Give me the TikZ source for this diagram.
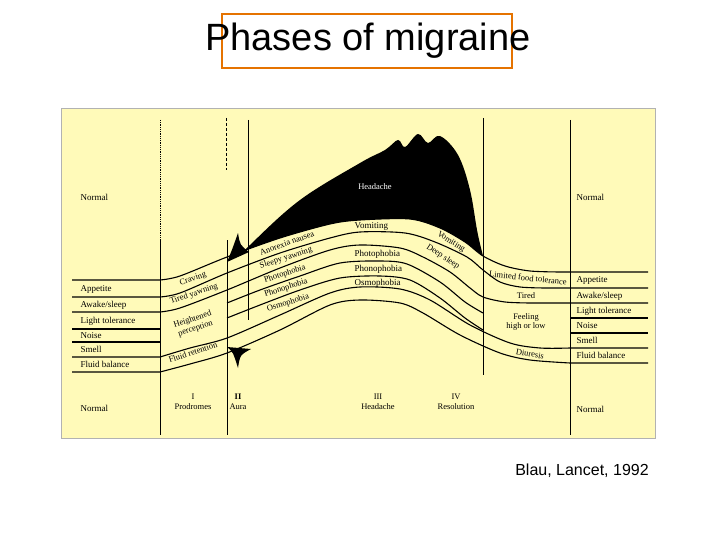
\documentclass[tikz,border=0pt]{standalone}
\usepackage{fontspec}
\setmainfont{Liberation Serif}
\newfontfamily\titlefont{Liberation Sans}
\begin{document}
\begin{tikzpicture}[x=1pt,y=-1pt,
  band/.style={line width=1.1pt},
  lbl/.style={font=\fontsize{8.5}{9.5}\selectfont, inner sep=0.5pt},
  lblw/.style={lbl, font=\fontsize{9}{10}\selectfont, anchor=west},
  vline/.style={line width=0.8pt}]
\useasboundingbox (0,0) rectangle (720,540);
\node[draw=orange!90!black, line width=2.5pt, minimum width=290pt, minimum height=54pt] (frame) at (367,41) {};
\node[font=\titlefont\fontsize{38}{42}\selectfont] (title) at (368,41) {Phases of migraine};
\node[fill={rgb,255:red,255;green,250;blue,185}, draw=gray!60, minimum width=594pt, minimum height=330pt, anchor=north west, inner sep=0] (panel) at (61,108) {};
% vertical lines
\draw[vline, densely dotted] (160,120) -- (160,240);
\draw[vline] (160,240) -- (160,435);
\draw[vline, densely dashed] (226,118) -- (226,170);
\draw[vline] (227,240) -- (227,435);
\draw[vline] (248,120) -- (248,320);
\draw[vline] (483,118) -- (483,375);
\draw[vline] (570,120) -- (570,435);
% headache
\begin{scope}
\clip (72,280) -- plot[smooth, tension=0.5] coordinates {(160,280) (180,276) (227,257) (280,238) (330,224) (360,220) (410,219) (440,228) (465,242) (483,256) (505,266) (530,271) (560,272)} -- (648,272) -- (648,100) -- (72,100) -- cycle;
\fill plot[smooth, tension=0.6] coordinates {(222,275) (250,245) (300,200) (360,163) (385,150) (398,140) (405,147) (418,134) (428,143) (440,136) (458,155) (470,190) (478,235) (488,275)} -- (488,320) -- (222,320) -- cycle;
\end{scope}
\fill (227,262) .. controls (232,250) .. (238,233) .. controls (240,245) .. (249,252) -- cycle;
\fill (227,347) .. controls (233,352) .. (238,368) .. controls (240,355) .. (251,349) -- cycle;
% bands
\draw[band] (72,280) -- plot[smooth, tension=0.5] coordinates {(160,280) (180,276) (227,257) (280,238) (330,224) (360,220) (410,219) (440,228) (465,242) (483,256) (505,266) (530,271) (560,272)} -- (648,272);
\draw[band] (72,297) -- plot[smooth, tension=0.5] coordinates {(160,297) (180,293) (227,273) (280,253) (330,238) (360,232) (405,233) (435,242) (467,257) (483,270) (500,282) (520,287) (545,288)} -- (648,288);
\draw[band] (72,312) -- plot[smooth, tension=0.5] coordinates {(160,312) (180,308) (227,290) (280,268) (330,250) (360,245) (400,248) (423,257) (450,272) (470,288) (483,297) (505,302) (530,303)} -- (648,303);
\draw[band] plot[smooth, tension=0.5] coordinates {(227,303) (260,290) (300,276) (340,263) (380,261) (407,264) (440,282) (465,302) (483,313)};
\draw[band] plot[smooth, tension=0.5] coordinates {(227,318) (260,305) (300,290) (340,278) (380,276) (410,280) (440,298) (465,318) (483,330)};
\draw[band] (570,318) -- (648,318);
\draw[band] (570,333) -- (648,333);
\draw[band] (72,329) -- (160,329);
\draw[band] (72,342) -- (160,342);
\draw[band] (72,357) -- plot[smooth, tension=0.5] coordinates {(160,357) (190,348) (227,338) (280,315) (330,293) (360,287) (400,289) (430,300) (470,325) (510,343) (540,348) (570,348)} -- (648,348);
\draw[band] (72,372) -- plot[smooth, tension=0.5] coordinates {(160,372) (190,364) (227,353) (280,330) (330,305) (360,300) (400,303) (423,313) (460,335) (500,353) (530,360) (570,363)} -- (648,363);
% left labels
\node[lblw] (n1) at (80,197) {Normal};
\node[lblw] (a1) at (80,289) {Appetite};
\node[lblw] (a2) at (80,305) {Awake/sleep};
\node[lblw] (a3) at (80,321) {Light tolerance};
\node[lblw] (a4) at (80,336) {Noise};
\node[lblw] (a5) at (80,349) {Smell};
\node[lblw] (a6) at (80,364) {Fluid balance};
\node[lblw] (n2) at (80,408) {Normal};
% prodrome labels
\node[lbl, rotate=18] (p1) at (193,279) {Craving};
\node[lbl, rotate=18] (p2) at (194,294) {Tired yawning};
\node[lbl, rotate=18, align=center] (p3) at (194,324) {Heightened\\perception};
\node[lbl, rotate=18] (p4) at (193,352) {Fluid retention};
\node[lbl, align=center] (ph1) at (193,402) {I\\Prodromes};
\node[lbl, align=center] (ph2) at (238,402) {\textbf{II}\\Aura};
% aura/headache rising labels
\node[lbl, rotate=20] (b1) at (287,243) {Anorexia nausea};
\node[lbl, rotate=18] (b2) at (286,258) {Sleepy yawning};
\node[lbl, rotate=18] (b3) at (285,274) {Photophobia};
\node[lbl, rotate=18] (b4) at (286,288) {Phonophobia};
\node[lbl, rotate=17] (b5) at (288,303) {Osmophobia};
% headache labels
\node[lbl, text=white] (h0) at (375,187) {Headache};
\node[lblw] (h1) at (354,226) {Vomiting};
\node[lblw] (h2) at (354,254) {Photophobia};
\node[lblw] (h3) at (354,269) {Phonophobia};
\node[lblw] (h4) at (354,283) {Osmophobia};
\node[lbl, rotate=-33] (h5) at (451,242) {Vomiting};
\node[lbl, rotate=-33] (h6) at (443,257) {Deep sleep};
\node[lbl, align=center] (ph3) at (378,402) {III\\Headache};
\node[lbl, align=center] (ph4) at (456,402) {IV\\Resolution};
% resolution labels
\node[lbl, rotate=-6] (r1) at (528,278) {Limited food tolerance};
\node[lbl] (r2) at (526,295.5) {Tired};
\node[lbl, align=center] (r3) at (526,322) {Feeling\\high or low};
\node[lbl, rotate=-10] (r4) at (530,354) {Diuresis};
% right labels
\node[lblw] (n3) at (576,197) {Normal};
\node[lblw] (c1) at (576,280) {Appetite};
\node[lblw] (c2) at (576,296) {Awake/sleep};
\node[lblw] (c3) at (576,311) {Light tolerance};
\node[lblw] (c4) at (576,326) {Noise};
\node[lblw] (c5) at (576,340) {Smell};
\node[lblw] (c6) at (576,355) {Fluid balance};
\node[lblw] (n4) at (576,409) {Normal};
\node[font=\titlefont\fontsize{16}{18}\selectfont] (cite) at (582,471) {Blau, Lancet, 1992};
\end{tikzpicture}
\end{document}
